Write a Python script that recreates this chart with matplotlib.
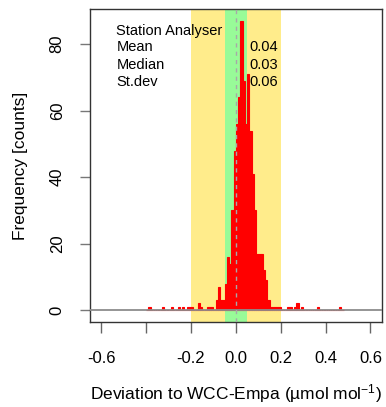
import matplotlib
matplotlib.use("Agg")
import matplotlib.pyplot as plt
import numpy as np

plt.rcParams["font.family"] = ["Liberation Sans", "DejaVu Sans"]
plt.rcParams["mathtext.fontset"] = "custom"
plt.rcParams["mathtext.rm"] = "Liberation Sans"
plt.rcParams["mathtext.it"] = "Liberation Sans:italic"
plt.rcParams["mathtext.default"] = "regular"

# Histogram breaks (0.01 wide bins from -0.40 to 0.48) and counts per bin
break_lo, break_hi, n_bins = -0.40, 0.48, 88
counts = [
    0, 1, 0, 0, 0, 0, 0, 1, 0, 0,      # -0.40 .. -0.31
    0, 1, 0, 0, 1, 0, 1, 0, 1, 1,      # -0.30 .. -0.21
    1, 0, 0, 2, 1, 0, 0, 1, 1, 1,      # -0.20 .. -0.11
    0, 3, 7, 3, 3, 8, 16, 14, 30, 48,  # -0.10 .. -0.01
    56, 64, 87, 69, 56, 71, 54, 41, 30, 17,  # 0.00 .. 0.09
    17, 17, 12, 9, 3, 1, 1, 1, 1, 1,   # 0.10 .. 0.19
    0, 0, 0, 1, 1, 0, 1, 2, 0, 1,      # 0.20 .. 0.29
    0, 0, 0, 0, 0, 0, 1, 0, 0, 0,      # 0.30 .. 0.39
    0, 0, 0, 0, 0, 0, 1, 0,            # 0.40 .. 0.47
]

# Tolerance bands (compatibility goal and extended goal)
band_inner = (-0.05, 0.05)
band_outer = (-0.2, 0.2)

# Summary statistics shown in the corner
stat_title = "Station Analyser"
stat_names = ["Mean", "Median", "St.dev"]
stat_values = ["0.04", "0.03", "0.06"]

x_ticks = [-0.6, -0.4, -0.2, 0.0, 0.2, 0.4, 0.6]
x_tick_labels = ["-0.6", "", "-0.2", "0.0", "0.2", "0.4", "0.6"]
y_ticks = [0, 20, 40, 60, 80]
y_tick_labels = ["0", "20", "40", "60", "80"]

edges = np.linspace(break_lo, break_hi, n_bins + 1)

fig = plt.figure(figsize=(3.86, 4.07), dpi=100)
ax = fig.add_axes([0.2332, 0.2096, 0.7557, 0.7676])

ax.axvspan(*band_outer, color="#FFEC8B", lw=0, zorder=0)
ax.axvspan(*band_inner, color="#98FB98", lw=0, zorder=0.5)

ax.bar(edges[:-1], counts, width=np.diff(edges), align="edge",
       color="#FF0000", edgecolor="#FF0000", linewidth=0.8, zorder=2)

ax.axhline(0, color="#8c8c8c", lw=1.3, zorder=3)
ax.axvline(0, color="#a8a8a8", lw=1.0, ls=(0, (3, 3)), zorder=4)

ax.set_xlim(-0.65, 0.65)
ax.set_ylim(-3.48, 90.48)

for s in ax.spines.values():
    s.set_color("#333333")
    s.set_linewidth(1.0)

ax.set_xticks(x_ticks)
ax.set_xticklabels(x_tick_labels, fontsize=12)
ax.set_yticks(y_ticks)
ax.set_yticklabels(y_tick_labels, fontsize=12, rotation=90, va="center")
ax.tick_params(axis="x", length=7.9, width=1.0, color="#666666", pad=13)
ax.tick_params(axis="y", length=7.2, width=1.0, color="#777777", pad=11)

ax.set_xlabel("Deviation to WCC-Empa (µmol mol$^{-1}$)", fontsize=12.5, labelpad=12)
ax.set_ylabel("Frequency [counts]", fontsize=12.5, labelpad=16)

# Statistics block
row_y = [77.8, 72.5, 67.5]
ax.text(-0.532, 82.8, stat_title, fontsize=10.5, va="baseline", ha="left", zorder=5)
for name, val, yy in zip(stat_names, stat_values, row_y):
    ax.text(-0.532, yy, name, fontsize=10.5, va="baseline", ha="left", zorder=5)
    ax.text(0.187, yy, val, fontsize=10.5, va="baseline", ha="right", zorder=5)

fig.savefig("out.png", dpi=100)
